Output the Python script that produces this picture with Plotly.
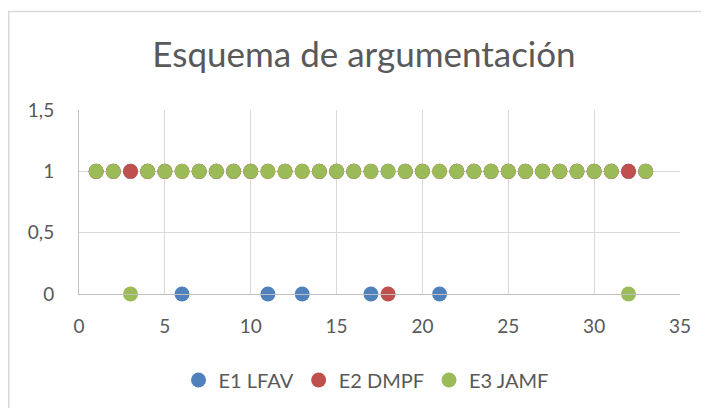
import plotly.graph_objects as go

x_vals = list(range(1, 34))
e1_zero = [6, 11, 13, 17, 21]
e2_zero = [18]
e3_zero = [3, 32]
e1_vals = [0 if x in e1_zero else 1 for x in x_vals]
e2_vals = [0 if x in e2_zero else 1 for x in x_vals]
e3_vals = [0 if x in e3_zero else 1 for x in x_vals]

series = [
    ("E1 LFAV", e1_vals, "#4f81bd"),
    ("E2 DMPF", e2_vals, "#c0504d"),
    ("E3 JAMF", e3_vals, "#9bbb59"),
]

FONT = "Lato"
GREY = "#595959"
W, H = 701, 400  # page body adds an 8px offset

fig = go.Figure()
for name, vals, col in series:
    fig.add_trace(go.Scatter(
        x=x_vals, y=vals, mode="markers", name=name, cliponaxis=False,
        marker=dict(size=15, color=col, line=dict(width=0)),
    ))

fig.update_layout(
    width=W, height=H,
    margin=dict(l=71, r=29, t=102, b=114, autoexpand=False),
    paper_bgcolor="white", plot_bgcolor="white",
    separators=",.",
    font=dict(family=FONT, color=GREY, size=18),
    title=dict(text="Esquema de argumentación", x=356/W, xanchor="center",
               y=1-47/H, yanchor="middle", xref="container", yref="container",
               font=dict(family=FONT, size=35, color=GREY)),
    xaxis=dict(range=[0, 35], dtick=5, tick0=0, showgrid=True, gridcolor="#d9d9d9",
               gridwidth=1, zeroline=False, showline=True, linecolor="#bfbfbf",
               ticks="", ticklabelstandoff=15, fixedrange=True,
               tickfont=dict(family=FONT, size=19, color=GREY)),
    yaxis=dict(range=[0, 1.5], dtick=0.5, tick0=0, showgrid=True, gridcolor="#d9d9d9",
               gridwidth=1, zeroline=False, showline=True, linecolor="#bfbfbf",
               ticks="", ticklabelstandoff=20, fixedrange=True,
               tickfont=dict(family=FONT, size=19, color=GREY)),
    legend=dict(orientation="h", x=(358-71)/601, xanchor="center",
                y=(286-372)/184, yanchor="middle",
                font=dict(family=FONT, size=20, color=GREY),
                tracegroupgap=0),
    showlegend=True,
)

fig.add_shape(type="rect", xref="paper", yref="paper",
              x0=(0.75-71)/601, x1=1.2, y0=-0.8, y1=(286-3.5)/184,
              line=dict(color="#d9d9d9", width=1.5), layer="below")

fig.write_html("out.html")
